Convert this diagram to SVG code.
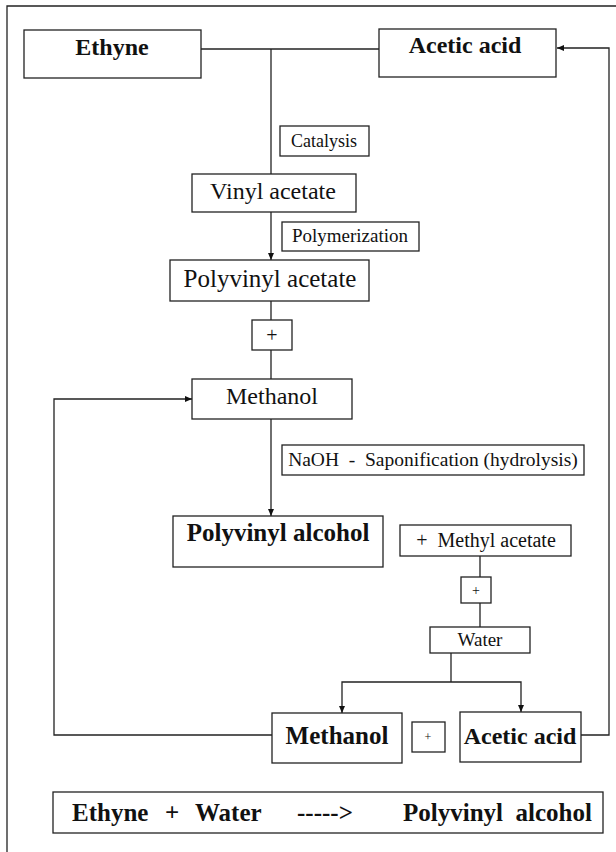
<svg xmlns="http://www.w3.org/2000/svg" width="616" height="852" viewBox="0 0 616 852">
<defs>
<marker id="arr" markerWidth="8" markerHeight="8" refX="7" refY="4" orient="auto" markerUnits="userSpaceOnUse">
<path d="M0,1 L7,4 L0,7 Z" fill="#111"/>
</marker>
<style>
.b{fill:#fff;stroke:#222;stroke-width:1.3}
.t{font-family:"Liberation Serif","Times New Roman",serif;fill:#111;text-anchor:middle}
.bd{font-weight:bold}
.s{text-anchor:start}
.c{fill:none;stroke:#222;stroke-width:1.3}
</style>
</defs>
<rect width="616" height="852" fill="#fff"/>
<g id="frame"><path class="c" d="M7,852 V6 H616"/></g>
<g id="connectors">
<path class="c" d="M201,49 H379"/>
<path class="c" d="M271,49 V174"/>
<path class="c" d="M271,212 V260" marker-end="url(#arr)"/>
<path class="c" d="M271,301 V320 M271,350 V379"/>
<path class="c" d="M271,419 V516" marker-end="url(#arr)"/>
<path class="c" d="M272,735 H54 V399 H192" marker-end="url(#arr)"/>
<path class="c" d="M480,556 V577 M480,603 V627"/>
<path class="c" d="M451,653 V682"/>
<path class="c" d="M451,682 H342 V713" marker-end="url(#arr)"/>
<path class="c" d="M451,682 H521 V712" marker-end="url(#arr)"/>
<path class="c" d="M581,735 H609 V48 H557" marker-end="url(#arr)"/>
</g>
<g id="ethyne"><rect class="b" x="24" y="30" width="177" height="48"/><text class="t bd" x="112" y="55" font-size="24">Ethyne</text></g>
<g id="acetic-top"><rect class="b" x="379" y="29" width="177" height="48"/><text class="t bd" x="465" y="53" font-size="24">Acetic acid</text></g>
<g id="catalysis"><rect class="b" x="280" y="126" width="89" height="30"/><text class="t" x="324" y="147" font-size="18">Catalysis</text></g>
<g id="vinyl-acetate"><rect class="b" x="192" y="174" width="164" height="38"/><text class="t" x="273" y="199" font-size="24">Vinyl acetate</text></g>
<g id="polymerization"><rect class="b" x="282" y="222" width="137" height="29"/><text class="t" x="350" y="242" font-size="19">Polymerization</text></g>
<g id="polyvinyl-acetate"><rect class="b" x="170" y="260" width="199" height="41"/><text class="t" x="270" y="287" font-size="25">Polyvinyl acetate</text></g>
<g id="plus1"><rect class="b" x="252" y="320" width="40" height="30"/><text class="t" x="272" y="342" font-size="20">+</text></g>
<g id="methanol-top"><rect class="b" x="192" y="379" width="160" height="40"/><text class="t" x="272" y="404" font-size="24">Methanol</text></g>
<g id="naoh"><rect class="b" x="282" y="445" width="302" height="30"/><text class="t" x="433" y="466" font-size="19.5" xml:space="preserve">NaOH  -  Saponification (hydrolysis)</text></g>
<g id="polyvinyl-alcohol"><rect class="b" x="173" y="516" width="210" height="51"/><text class="t bd" x="278" y="541" font-size="25">Polyvinyl alcohol</text></g>
<g id="methyl-acetate"><rect class="b" x="400" y="525" width="171" height="31"/><text class="t" x="486" y="547" font-size="20" xml:space="preserve">+  Methyl acetate</text></g>
<g id="plus2"><rect class="b" x="461" y="577" width="30" height="26"/><text class="t" x="476" y="595" font-size="14">+</text></g>
<g id="water"><rect class="b" x="430" y="627" width="100" height="26"/><text class="t" x="480" y="646" font-size="19">Water</text></g>
<g id="methanol-bottom"><rect class="b" x="272" y="713" width="130" height="50"/><text class="t bd" x="337" y="744" font-size="25">Methanol</text></g>
<g id="plus3"><rect class="b" x="412" y="722" width="33" height="30"/><text class="t" x="428" y="741" font-size="12">+</text></g>
<g id="acetic-bottom"><rect class="b" x="460" y="712" width="121" height="50"/><text class="t bd" x="520" y="744" font-size="24">Acetic acid</text></g>
<g id="summary"><rect class="b" x="53" y="792" width="550" height="41"/><text class="t bd s" font-size="25" y="821"><tspan x="72">Ethyne</tspan><tspan x="165">+</tspan><tspan x="195">Water</tspan><tspan x="297">-----&gt;</tspan><tspan x="403" xml:space="preserve">Polyvinyl  alcohol</tspan></text></g>
</svg>
